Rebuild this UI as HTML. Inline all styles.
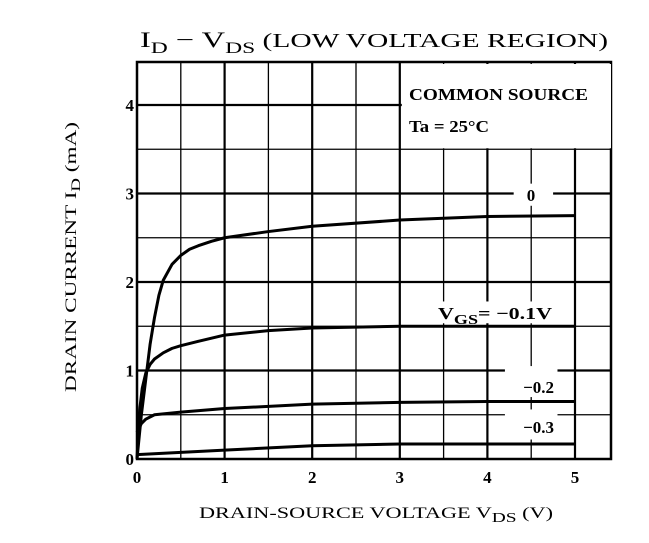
<!DOCTYPE html>
<html><head><meta charset="utf-8"><style>
body{margin:0;background:#fff;}
svg text{font-family:"Liberation Serif",serif;fill:#000;}
</style></head><body>
<svg id="c" width="649" height="538" xmlns="http://www.w3.org/2000/svg">
<text x="140" y="47" font-size="22" textLength="468" lengthAdjust="spacingAndGlyphs">I<tspan font-size="16" dy="6">D</tspan><tspan dy="-6"> − V</tspan><tspan font-size="16" dy="6">DS</tspan><tspan dy="-6" font-size="20">   (LOW VOLTAGE REGION)</tspan></text>
<text transform="translate(76,392) rotate(-90)" font-size="16" textLength="270" lengthAdjust="spacingAndGlyphs">DRAIN CURRENT  I<tspan font-size="13" dy="4">D</tspan><tspan dy="-4">   (mA)</tspan></text>
<text x="199" y="518" font-size="16" textLength="354" lengthAdjust="spacingAndGlyphs">DRAIN-SOURCE VOLTAGE   V<tspan font-size="14" dy="4">DS</tspan><tspan dy="-4">   (V)</tspan></text>
<g id="grid"></g><g id="ticks"></g><g id="boxes"></g><g id="curves"></g><g id="labels"></g>
</svg>
<script>
const xTicks=[0,1,2,3,4,5];
const yTicks=[0,1,2,3,4];
const seriesNames=["0","VGS=-0.1V","-0.2","-0.3"];
const vds0=[0,0.05,0.1,0.15,0.2,0.25,0.3,0.4,0.5,0.6,0.7,0.85,1,1.5,2,3,4,5];
const id0=[0,0.5,0.9,1.3,1.6,1.85,2.02,2.2,2.3,2.37,2.41,2.46,2.5,2.57,2.63,2.7,2.74,2.75];
const vds1=[0,0.03,0.06,0.1,0.15,0.2,0.3,0.4,0.5,0.7,1,1.5,2,3,4,5];
const id1=[0,0.55,0.8,0.97,1.07,1.13,1.2,1.25,1.28,1.33,1.4,1.45,1.48,1.5,1.5,1.5];
const vds2=[0,0.05,0.1,0.2,0.5,1,2,3,4,5];
const id2=[0.3,0.4,0.45,0.5,0.53,0.57,0.62,0.64,0.65,0.65];
const vds3=[0,1,2,3,4,5];
const id3=[0.05,0.1,0.15,0.17,0.17,0.17];
const X0=137,XS=87.6,Y0=459,YS=88.5;
const sx=v=>X0+v*XS, sy=v=>Y0-v*YS;
const NS="http://www.w3.org/2000/svg";
function mk(t,a,p){const e=document.createElementNS(NS,t);for(const k in a)e.setAttribute(k,a[k]);p.appendChild(e);return e;}
const grid=document.getElementById('grid');
for(let i=1;i<=10;i++){const v=i*0.5;const l=mk('line',{x1:sx(v),x2:sx(v),y1:62,y2:Y0,stroke:'#000','stroke-width':i%2==0?2.2:1.3},grid);

}
for(let i=1;i<=8;i++){const v=i*0.5;const l=mk('line',{x1:X0,x2:611,y1:sy(v),y2:sy(v),stroke:'#000','stroke-width':i%2==0?2.2:1.3},grid);

}
const fr=mk('rect',{x:X0,y:62,width:611-X0,height:Y0-62,fill:'none',stroke:'#000','stroke-width':2.5},grid);


const tk=document.getElementById('ticks');
xTicks.forEach(v=>{const t=mk('text',{x:sx(v),y:Y0+24,'text-anchor':'middle','font-size':17,'font-weight':'bold'},tk);t.textContent=v;

});
yTicks.forEach(v=>{const t=mk('text',{x:X0-3,y:sy(v)+6,'text-anchor':'end','font-size':17,'font-weight':'bold'},tk);t.textContent=v;

});
const bx=document.getElementById('boxes');
[[sx(3)+2,64,609-sx(3),sy(3.5)-65],[sx(4.3),sy(3.1)-1,sx(4.75)-sx(4.3),sy(2.85)-sy(3.1)],[sx(3.1),sy(1.78),sx(4.8)-sx(3.1),sy(1.5)-sy(1.78)-3],[sx(4.2),sy(1.05),sx(4.8)-sx(4.2),sy(0.7)-sy(1.05)],[sx(4.2),sy(0.56),sx(4.8)-sx(4.2),sy(0.22)-sy(0.56)]].forEach(r=>{
const e=mk('rect',{x:r[0],y:r[1],width:r[2],height:r[3],fill:'#fff'},bx);

});
const cv=document.getElementById('curves');
[[vds0,id0],[vds1,id1],[vds2,id2],[vds3,id3]].forEach((s,i)=>{
const p=mk('polyline',{points:s[0].map((v,j)=>sx(v)+','+sy(s[1][j])).join(' '),fill:'none',stroke:'#000','stroke-width':3,'stroke-linejoin':'round'},cv);

});
const lb=document.getElementById('labels');
function txt(x,y,s,name,a,len){const at={x:x,y:y,'font-size':17,'font-weight':'bold','text-anchor':a||'start'};if(len){at.textLength=len;at.lengthAdjust='spacingAndGlyphs';}
const t=mk('text',at,lb);t.innerHTML=s;

return t;}
txt(409,100,'COMMON SOURCE','legend-title','start',179);
txt(409,132,'Ta = 25°C','legend-temperature','start',80);
txt(531,201,'0','label-vgs-0','middle');
txt(438,319,'V<tspan font-size="14" dy="5">GS</tspan><tspan dy="-5">= −0.1V</tspan>','label-vgs-m01','start',114);
txt(554,393,'−0.2','label-vgs-m02','end');
txt(554,433,'−0.3','label-vgs-m03','end');
</script>
</body></html>
